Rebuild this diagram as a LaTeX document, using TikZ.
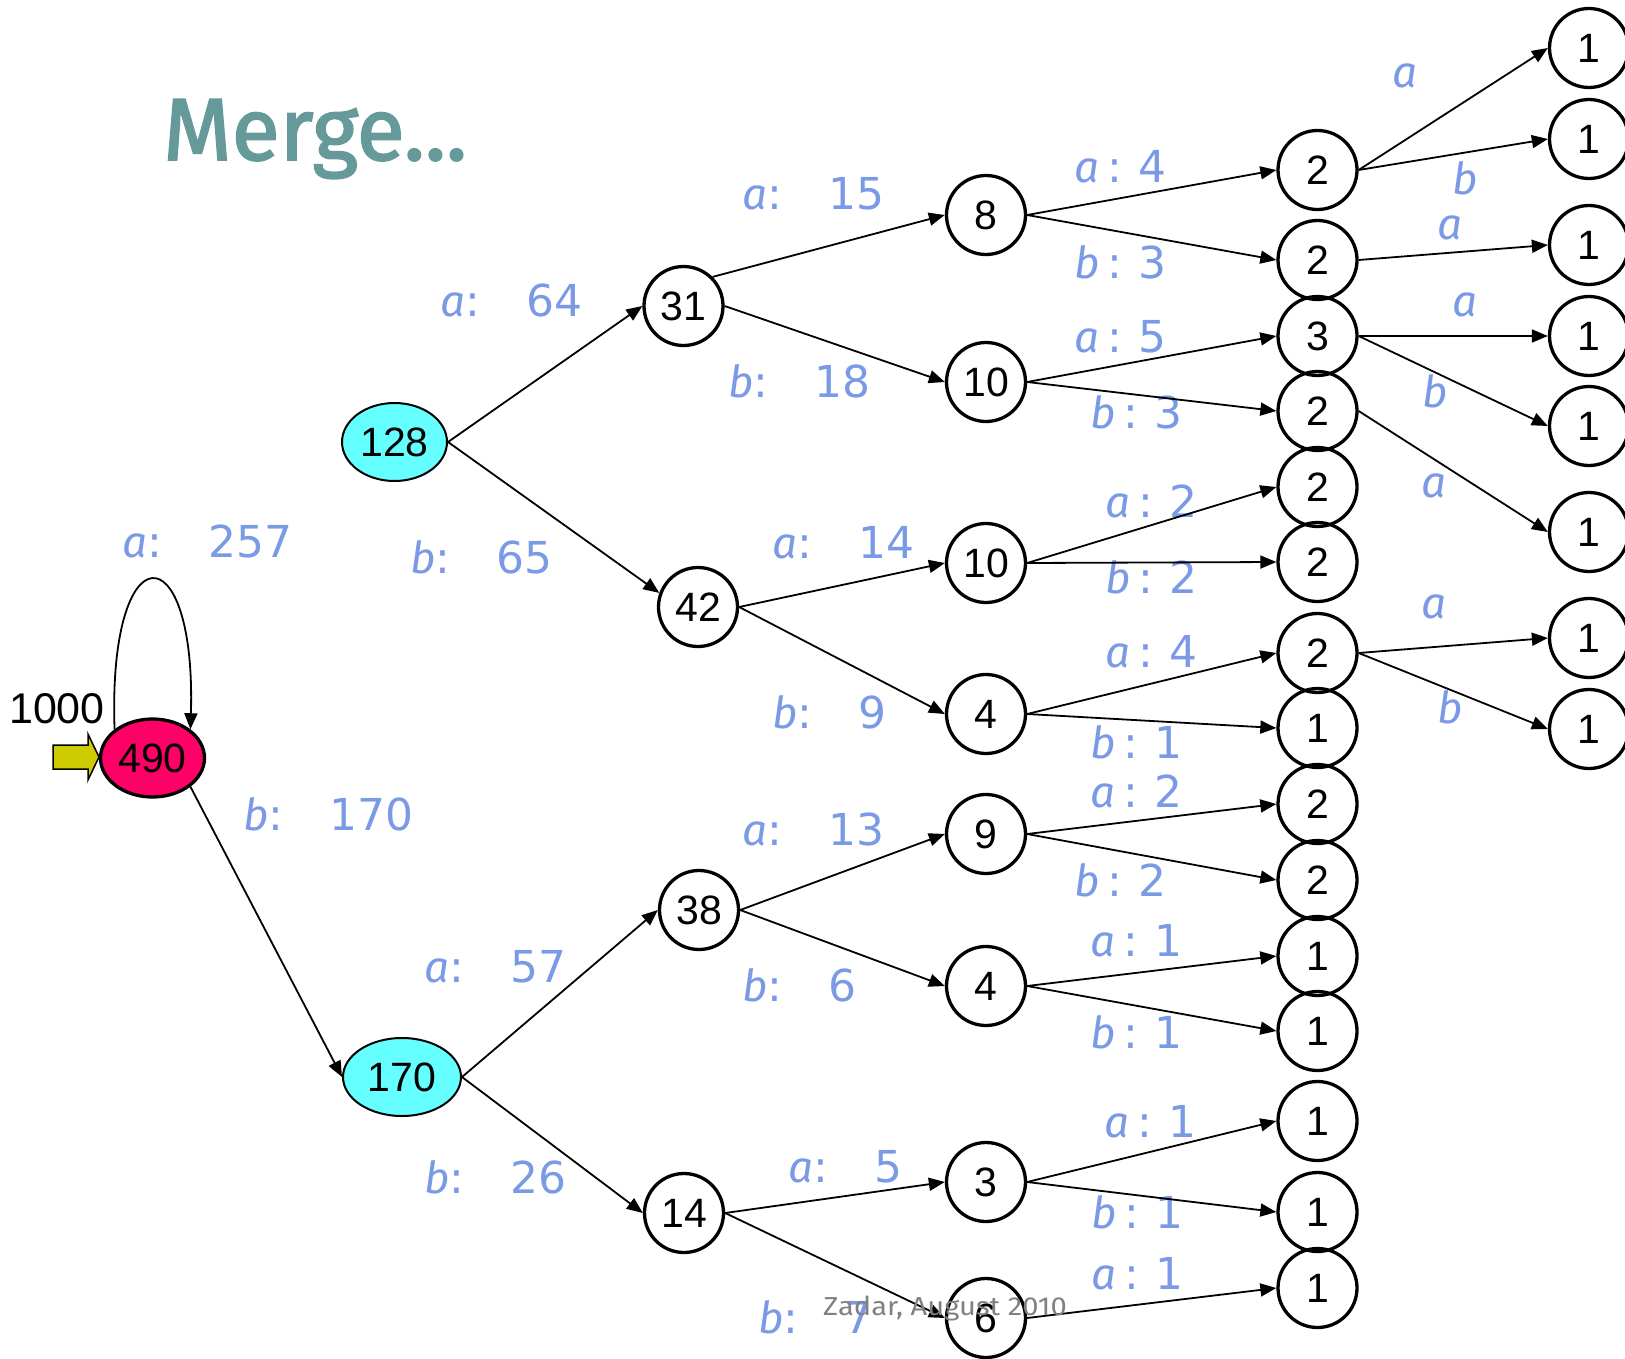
\documentclass[tikz,border=0pt]{standalone}
\usepackage{fontspec}
\setmainfont{Liberation Sans}
\newfontfamily\numfont{DejaVu Sans}
\newfontfamily\letfont{Fira Sans}
\newfontfamily\headfont{Fira Sans}[FakeBold=2]
\newfontfamily\footfont{Fira Sans}[FakeStretch=1.12]
\usetikzlibrary{arrows.meta,shapes.geometric}

\definecolor{labblue}{RGB}{122,154,230}
\definecolor{rootred}{RGB}{255,0,102}
\definecolor{midcyan}{RGB}{102,255,255}
\definecolor{startyel}{RGB}{204,204,0}
\definecolor{headteal}{RGB}{102,153,153}
\definecolor{footgray}{RGB}{128,128,128}

% edge labels: "a:   64" (wide gap) and "a : 4" (compact)
\newcommand\wlab[2]{\makebox[86pt][l]{{\letfont\itshape #1}:}#2}
\newcommand\nlab[2]{\makebox[33pt][l]{{\letfont\itshape #1}}\makebox[31pt][l]{:}#2}

\tikzset{
  st/.style={circle, draw, line width=3.3pt, minimum size=79pt, inner sep=0pt,
             font=\fontsize{41}{48}\selectfont},
  oval/.style={ellipse, draw, inner sep=0pt, minimum height=78pt,
             font=\fontsize{41}{48}\selectfont},
  edge/.style={-{Triangle[length=16pt,width=13pt]}, line width=1.8pt},
  lbl/.style={anchor=base west, inner sep=0pt, text=labblue,
             font=\numfont\fontsize{44}{50}\selectfont},
  sym/.style={anchor=base, inner sep=0pt, text=labblue,
             font=\letfont\itshape\fontsize{44}{50}\selectfont},
}

\begin{document}
\begin{tikzpicture}[x=1pt,y=-1pt]
\useasboundingbox (0,0) rectangle (1625,1359);

% title
\node[anchor=base west, inner sep=0pt, text=headteal,
      font=\headfont\fontsize{88}{100}\selectfont] (title) at (163,160) {Merge...};

% root and second level
\node[oval, line width=3.3pt, fill=rootred, minimum width=104pt] (n490) at (152.5,758) {490};
\node[oval, line width=2pt, fill=midcyan, minimum width=105pt] (n128) at (394.5,442) {128};
\node[oval, line width=2pt, fill=midcyan, minimum width=118pt] (n170) at (402,1077) {170};

% start marker
\node[anchor=base, inner sep=0pt, font=\fontsize{43}{50}\selectfont] (start) at (57,723) {1000};
\fill[startyel, draw=black, line width=1.5pt]
  (53,745) -- (88,745) -- (88,734) -- (99,757) -- (88,780) -- (88,769) -- (53,769) -- cycle;

% third level
\node[st] (n31) at (683.5,306) {31};
\node[st] (n42) at (698,607) {42};
\node[st] (n38) at (699,910) {38};
\node[st] (n14) at (684,1213) {14};

% fourth level
\node[st] (n8)   at (986,215)  {8};
\node[st] (n10a) at (986,382)  {10};
\node[st] (n10b) at (986,563)  {10};
\node[st] (n4a)  at (986,714)  {4};
\node[st] (n9)   at (986,834)  {9};
\node[st] (n4b)  at (986,986)  {4};
\node[st] (n3)   at (986,1182) {3};
\node[st] (n6)   at (986,1318) {6};

% fifth level
\foreach \i/\y/\t in {1/170/2, 2/260/2, 3/336/3, 4/411/2, 5/487/2, 6/562/2, 7/653/2,
                      8/728/1, 9/804/2, 10/880/2, 11/956/1, 12/1031/1, 13/1121/1,
                      14/1212/1, 15/1288/1}
  \node[st] (c\i) at (1317.5,\y) {\t};

% leaves
\foreach \i/\y in {1/48, 2/139, 3/245, 4/336, 5/426, 6/532, 7/638, 8/729}
  \node[st] (d\i) at (1589,\y) {1};

% labels, left part of the tree
\node[lbl] (l1)  at (122,557)  {\wlab{a}{257}};
\node[lbl] (l2)  at (243,830)  {\wlab{b}{170}};
\node[lbl] (l3)  at (440,316)  {\wlab{a}{64}};
\node[lbl] (l4)  at (410,573)  {\wlab{b}{65}};
\node[lbl] (l5)  at (424,982)  {\wlab{a}{57}};
\node[lbl] (l6)  at (424,1193) {\wlab{b}{26}};
\node[lbl] (l7)  at (742,210)  {\wlab{a}{15}};
\node[lbl] (l8)  at (728,397)  {\wlab{b}{18}};
\node[lbl] (l9)  at (772,558)  {\wlab{a}{14}};
\node[lbl] (l10) at (772,728)  {\wlab{b}{9}};
\node[lbl] (l11) at (742,845)  {\wlab{a}{13}};
\node[lbl] (l12) at (742,1001) {\wlab{b}{6}};
\node[lbl] (l13) at (788,1182) {\wlab{a}{5}};
\node[lbl] (l14) at (758,1333) {\wlab{b}{7}};

% labels, right part of the tree
\node[lbl] (r1)  at (1074,183)  {\nlab{a}{4}};
\node[lbl] (r2)  at (1074,278)  {\nlab{b}{3}};
\node[lbl] (r3)  at (1074,352)  {\nlab{a}{5}};
\node[lbl] (r4)  at (1090,428)  {\nlab{b}{3}};
\node[lbl] (r5)  at (1105,517)  {\nlab{a}{2}};
\node[lbl] (r6)  at (1105,593)  {\nlab{b}{2}};
\node[lbl] (r7)  at (1105,667)  {\nlab{a}{4}};
\node[lbl] (r8)  at (1090,758)  {\nlab{b}{1}};
\node[lbl] (r9)  at (1090,807)  {\nlab{a}{2}};
\node[lbl] (r10) at (1074,896)  {\nlab{b}{2}};
\node[lbl] (r11) at (1090,956)  {\nlab{a}{1}};
\node[lbl] (r12) at (1090,1048) {\nlab{b}{1}};
\node[lbl] (r13) at (1104,1137) {\nlab{a}{1}};
\node[lbl] (r14) at (1091,1228) {\nlab{b}{1}};
\node[lbl] (r15) at (1091,1289) {\nlab{a}{1}};

% labels on the leaf edges
\node[sym] (s1) at (1405,88)  {a};
\node[sym] (s2) at (1465,195) {b};
\node[sym] (s3) at (1450,240) {a};
\node[sym] (s4) at (1465,316) {a};
\node[sym] (s5) at (1435,407) {b};
\node[sym] (s6) at (1434,497) {a};
\node[sym] (s7) at (1434,618) {a};
\node[sym] (s8) at (1450,723) {b};

% connectors
\draw[edge] (n490.north west) .. controls +(-7,-199) and +(6,-199) .. (n490.north east);
\draw[edge] (n490.south east) -- (n170.west);
\draw[edge] (n128.east) -- (n31.west);
\draw[edge] (n128.east) -- (n42.160);
\draw[edge] (n170.east) -- (n38.west);
\draw[edge] (n170.east) -- (n14.west);

\draw[edge] (n31.north east) -- (n8.west);
\draw[edge] (n31.east) -- (n10a.west);
\draw[edge] (n42.east) -- (n10b.west);
\draw[edge] (n42.east) -- (n4a.west);
\draw[edge] (n38.east) -- (n9.west);
\draw[edge] (n38.east) -- (n4b.west);
\draw[edge] (n14.east) -- (n3.west);
\draw[edge] (n14.east) -- (n6.west);

\foreach \s/\t in {n8/c1, n8/c2, n10a/c3, n10a/c4, n10b/c5, n10b/c6, n4a/c7, n4a/c8,
                   n9/c9, n9/c10, n4b/c11, n4b/c12, n3/c13, n3/c14, n6/c15}
  \draw[edge] (\s.east) -- (\t.west);

\foreach \s/\t in {c1/d1, c1/d2, c2/d3, c3/d4, c3/d5, c4/d6, c7/d7, c7/d8}
  \draw[edge] (\s.east) -- (\t.west);

% footer
\node[anchor=base west, inner sep=0pt, text=footgray,
      font=\footfont\fontsize{26}{30}\selectfont] (foot) at (823,1315) {Zadar, August 2010};
\end{tikzpicture}
\end{document}
